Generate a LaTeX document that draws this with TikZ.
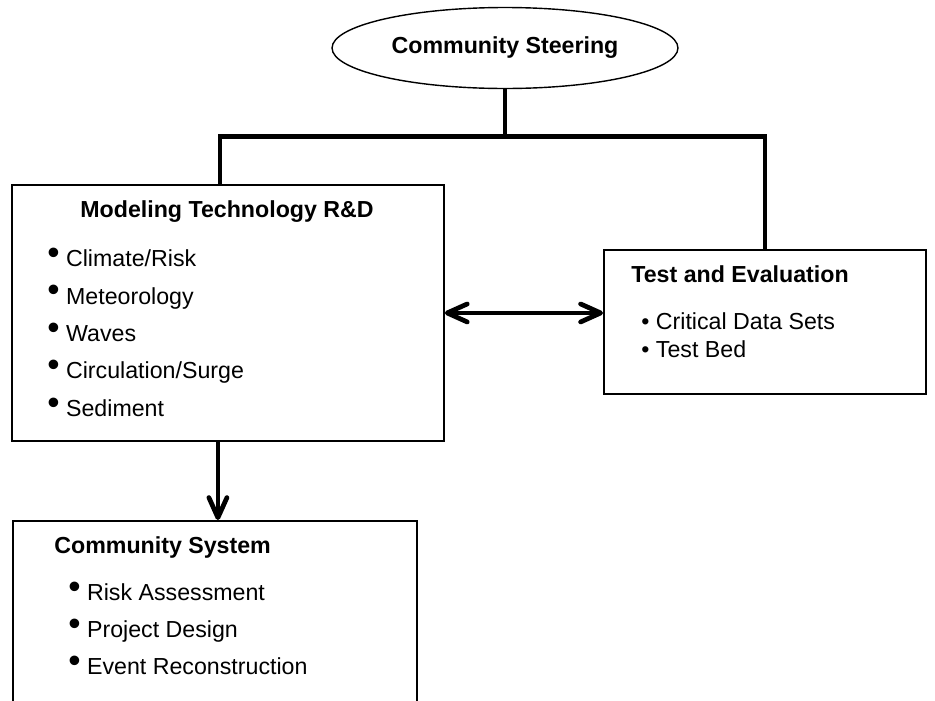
\documentclass[tikz,border=0pt]{standalone}
\usepackage{fontspec}
\setmainfont{Liberation Sans}
\usetikzlibrary{shapes.geometric,arrows.meta,positioning,calc}
\tikzset{
  panel/.style = {draw, rectangle, line width=1.1pt, anchor=north west},
  oval/.style  = {draw, ellipse, line width=0.8pt, minimum width=6.92cm, minimum height=1.62cm, font=\fontsize{13.2}{15}\selectfont\bfseries},
  head/.style  = {inner sep=0pt, anchor=base west, font=\fontsize{13.2}{15}\selectfont\bfseries},
  item/.style  = {inner sep=0pt, anchor=base west, font=\fontsize{13.2}{15}\selectfont},
  link/.style  = {draw, line width=2.7pt},
  tip/.style   = {-{Straight Barb[length=0.4cm,width=0.36cm,round]}}
}
\newcommand{\dotitem}{\raisebox{1.4pt}{\fontsize{20}{20}\selectfont\textbullet}}

\begin{document}
\begin{tikzpicture}[x=0.02cm, y=-0.02cm]
    \useasboundingbox (0,0) rectangle (935,700);
    \clip (0,0) rectangle (935,700);

    \node [oval] (steer) at (505,48) {Community Steering};
    \coordinate [below=0.95cm of steer] (bar);

    \node [panel, minimum width=8.64cm, minimum height=5.12cm] (model) at (11,184) {};
    \node [panel, minimum width=6.44cm, minimum height=2.88cm] (test) at (603,249) {};
    \node [panel, minimum width=8.08cm, minimum height=4.3cm] (comm) at (12,520) {};

    % modeling box
    \node [head, anchor=base] (mhead) at (227,217) {Modeling Technology R\&D};
    \node [item] (m1) at (47,266.5) {\dotitem{} Climate/Risk};
    \node [item, below=0.75cm of m1.base west, anchor=base west] (m2) {\dotitem{} Meteorology};
    \node [item, below=0.75cm of m2.base west, anchor=base west] (m3) {\dotitem{} Waves};
    \node [item, below=0.75cm of m3.base west, anchor=base west] (m4) {\dotitem{} Circulation/Surge};
    \node [item, below=0.75cm of m4.base west, anchor=base west] (m5) {\dotitem{} Sediment};

    % test box
    \node [head] (thead) at (631,282) {Test and Evaluation};
    \node [item] (t1) at (641,329) {\textbullet{} Critical Data Sets};
    \node [item, below=0.56cm of t1.base west, anchor=base west] (t2) {\textbullet{} Test Bed};

    % community box
    \node [head] (chead) at (54,553) {Community System};
    \node [item] (c1) at (68,600.5) {\dotitem{} Risk Assessment};
    \node [item, below=0.74cm of c1.base west, anchor=base west] (c2) {\dotitem{} Project Design};
    \node [item, below=0.74cm of c2.base west, anchor=base west] (c3) {\dotitem{} Event Reconstruction};

    % connectors
    \draw [link] (steer) -- (bar);
    \draw [link] ([xshift=-0.16cm]model.north) |- (bar) -| (test.north);
    \coordinate (dbl) at ([yshift=0.18cm]test.west);
    \draw [link, {Straight Barb[length=0.4cm,width=0.36cm,round]}-{Straight Barb[length=0.4cm,width=0.36cm,round]}] (dbl -| model.east) -- (dbl);
    \coordinate (drop) at ([xshift=-0.2cm]model.south);
    \draw [link, tip] (drop) -- (drop |- comm.north);
\end{tikzpicture}
\end{document}
